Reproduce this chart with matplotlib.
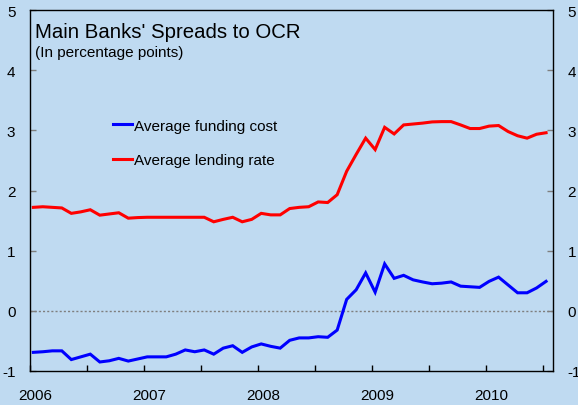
import matplotlib
matplotlib.use("Agg")
import matplotlib.pyplot as plt
import matplotlib.transforms as mtransforms
import numpy as np

plt.rcParams['font.family'] = ['Liberation Sans', 'DejaVu Sans']

# Monthly observations, January 2006 to July 2010
start_year = 2006
n_months = 55

funding_cost = [
    -0.69, -0.68, -0.665, -0.665, -0.81, -0.765, -0.72, -0.85, -0.83, -0.79,
    -0.835, -0.80, -0.765, -0.765, -0.765, -0.72, -0.65, -0.68, -0.65, -0.72,
    -0.62, -0.58, -0.69, -0.60, -0.55, -0.59, -0.62, -0.49, -0.45, -0.45,
    -0.43, -0.44, -0.32, 0.19, 0.35, 0.63, 0.31, 0.78, 0.54, 0.59,
    0.515, 0.48, 0.45, 0.46, 0.48, 0.41, 0.40, 0.39, 0.49, 0.56,
    0.43, 0.30, 0.30, 0.38, 0.49,
]

lending_rate = [
    1.72, 1.73, 1.72, 1.71, 1.62, 1.645, 1.68, 1.59, 1.61, 1.63,
    1.54, 1.55, 1.555, 1.555, 1.555, 1.555, 1.555, 1.555, 1.555, 1.48,
    1.52, 1.555, 1.48, 1.52, 1.62, 1.595, 1.595, 1.70, 1.72, 1.73,
    1.81, 1.80, 1.93, 2.32, 2.60, 2.87, 2.68, 3.05, 2.94, 3.09,
    3.105, 3.12, 3.14, 3.145, 3.145, 3.09, 3.03, 3.03, 3.07, 3.08,
    2.98, 2.91, 2.87, 2.935, 2.96,
]

year_labels = ["2006", "2007", "2008", "2009", "2010"]
y_ticks = [-1, 0, 1, 2, 3, 4, 5]

# decimal-year position of each monthly observation
x = start_year + (np.arange(n_months) + 0.35) / 12.0

bg = '#BFDAF1'
fig = plt.figure(figsize=(5.78, 4.06), dpi=100, facecolor=bg)
ax = fig.add_axes([30 / 578, 34 / 406, 523 / 578, 361 / 406])
ax.set_facecolor(bg)

ax.plot(x, funding_cost, color='#0000FF', lw=2.2, solid_joinstyle='miter',
        label='Average funding cost')
ax.plot(x, lending_rate, color='#FF0000', lw=2.2, solid_joinstyle='miter',
        label='Average lending rate')
ax.axhline(0, color='#7F7F7F', lw=1.0, ls=(0, (1.5, 1.5)), zorder=1)

ax.set_xlim(2006, 2010.59)
ax.set_ylim(-1, 5)

for s in ax.spines.values():
    s.set_color('black')
    s.set_linewidth(1.0)

# y axis: labels on both sides, short grey inward ticks
ax.set_yticks(y_ticks)
ax.set_yticklabels([str(v) for v in y_ticks])
ax.tick_params(axis='y', which='both', direction='in', length=4, width=1,
               color='#7F7F7F', left=True, right=True, labelleft=True,
               labelright=True, labelsize=11, pad=10.5)

# x axis: years labelled, half-year inward ticks
years = [int(y) for y in year_labels]
ax.set_xticks(years)
ax.set_xticklabels(year_labels)
ax.set_xticks([y + 0.5 for y in years], minor=True)
ax.tick_params(axis='x', which='both', direction='in', length=4, width=1,
               color='black', labelsize=11, pad=12)
shift = mtransforms.ScaledTranslation(5 / 100, 0, fig.dpi_scale_trans)
for lab in ax.get_xticklabels():
    lab.set_transform(lab.get_transform() + shift)

fig.text(35 / 578, 1 - 38 / 406, "Main Banks' Spreads to OCR", fontsize=14.7,
         ha='left', va='baseline')
fig.text(35 / 578, 1 - 57 / 406, "(In percentage points)", fontsize=11,
         ha='left', va='baseline')

leg = ax.legend(loc='upper left', bbox_to_anchor=(0.159, 0.699),
                frameon=False, fontsize=11, handlelength=1.25,
                handletextpad=0.1, labelspacing=1.35, borderpad=0,
                borderaxespad=0)

fig.savefig('out.png', dpi=100, facecolor=bg)
